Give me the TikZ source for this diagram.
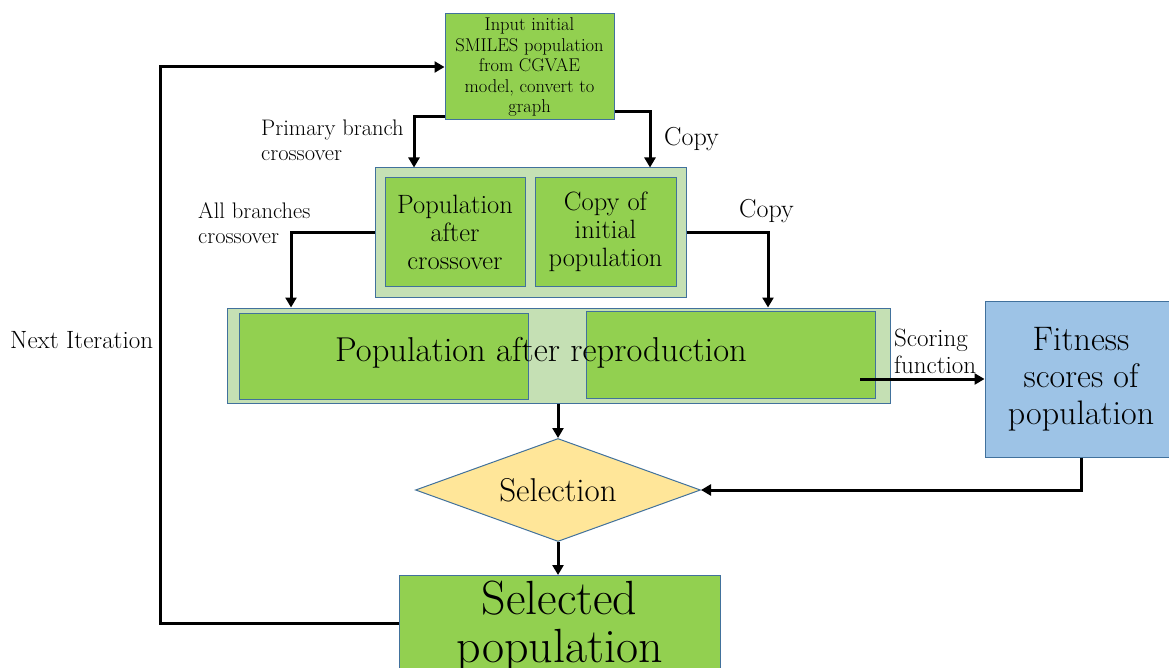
\documentclass[tikz,border=0pt]{standalone}
\usetikzlibrary{arrows.meta,shapes.geometric}
\definecolor{gfill}{HTML}{92D050}
\definecolor{lgfill}{HTML}{C5E0B4}
\definecolor{bfill}{HTML}{9DC3E6}
\definecolor{yfill}{HTML}{FFE699}
\definecolor{bline}{HTML}{41719C}
\tikzset{
  box/.style={draw=bline,line width=1pt,fill=gfill,rectangle,inner sep=0pt,align=center},
  outer/.style={draw=bline,line width=1pt,fill=lgfill,rectangle,inner sep=0pt},
  conn/.style={line width=3pt,-{Triangle[length=10pt,width=11pt]}},
  lbl/.style={inner sep=0pt,align=left,anchor=west},
  fs/.style 2 args={font={\fontsize{#1}{#2}\selectfont}},
}
\begin{document}
\begin{tikzpicture}[x=1pt,y=-1pt]
\useasboundingbox (0,0) rectangle (1169,668);
\clip (0,0) rectangle (1169,668);
% input box
\node[box,minimum width=169,minimum height=106,fs={18.5}{20.5}] (inp) at (529.5,67) {Input initial\\SMILES population\\from CGVAE\\model, convert to\\graph};
% second stage
\node[outer,minimum width=311,minimum height=129] (st2) at (530.5,232.5) {};
\node[box,minimum width=140,minimum height=108,fs={26.5}{28}] (cross) at (455,232) {Population\\after\\crossover};
\node[box,minimum width=141,minimum height=108,fs={26.5}{28}] (copyb) at (605.5,232) {Copy of\\initial\\population};
% third stage
\node[outer,minimum width=663,minimum height=95] (st3) at (558.5,355.5) {};
\node[box,minimum width=289,minimum height=86] (rl) at (383.5,356) {};
\node[box,minimum width=289,minimum height=87] (rr) at (730.5,354.5) {};
\node[inner sep=0pt,fs={34.5}{38}] (reptxt) at (541,353) {Population after reproduction};
% fitness
\node[draw=bline,line width=1pt,fill=bfill,rectangle,inner sep=0pt,align=center,minimum width=192,minimum height=156,fs={34}{37}] (fit) at (1081,379) {Fitness\\scores of\\population};
% selection
\node[draw=bline,line width=1pt,fill=yfill,diamond,aspect=2.77,inner sep=0pt,minimum width=285,minimum height=103] (sel) at (558,490) {};
\node[inner sep=0pt,fs={33}{36}] (seltxt) at (558,490) {Selection};
% selected population
\node[box,minimum width=321,minimum height=120,anchor=north] (selpop) at (559.5,575) {};
\node[inner sep=0pt,align=center,fs={48}{48}] (seltxt2) at (559.5,626) {Selected\\population};
% labels
\node[lbl,fs={22.5}{25}] (l1) at (261,140.5) {Primary branch\\crossover};
\node[lbl,fs={26}{28}] (l2) at (664,139) {Copy};
\node[lbl,fs={22.5}{25}] (l3) at (198,223.5) {All branches\\crossover};
\node[lbl,fs={26}{28}] (l4) at (739,211) {Copy};
\node[lbl,fs={25}{27}] (l5) at (894,351.5) {Scoring\\function};
\node[lbl,fs={25}{28}] (l6) at (10,340) {Next Iteration};
% connectors
\coordinate (nl) at (160,67);
\coordinate (sf) at (860,379);
\draw[conn] (selpop.west |- 0,623) -- (160,623) -- (nl) -- (inp.west |- nl);
\draw[conn] (inp.west |- 0,117) -- (414,117) -- (414,0 |- st2.north);
\draw[conn] (inp.east |- 0,112) -- (650,112) -- (650,0 |- st2.north);
\draw[conn] (st2.west |- 0,233) -- (291,233) -- (291,0 |- st3.north);
\draw[conn] (st2.east |- 0,233) -- (768,233) -- (768,0 |- st3.north);
\draw[conn] (sf) -- (fit.west |- sf);
\draw[conn] (fit.south) -- (1081,490) -- (sel.east);
\draw[conn] (sel.north |- st3.south) -- (sel.north);
\draw[conn] (sel.south) -- (sel.south |- selpop.north);
\end{tikzpicture}
\end{document}
